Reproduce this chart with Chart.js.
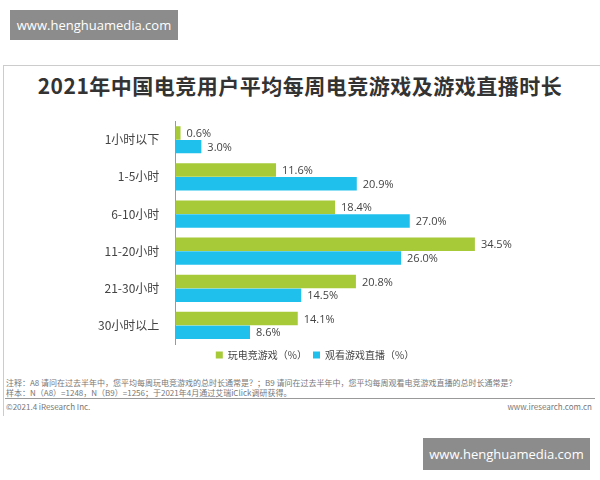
<!DOCTYPE html>
<html><head><meta charset="utf-8">
<script src="https://cdn.jsdelivr.net/npm/chart.js@4.4.0/dist/chart.umd.min.js"></script>
<style>
body{margin:0;width:600px;height:480px;background:#fff;font-family:"Noto Sans CJK SC","Noto Sans",sans-serif;position:relative;overflow:hidden}
.wm{position:absolute;background:#8c8c8c;color:#fff;font-size:13px;font-family:"Open Sans",sans-serif;display:flex;align-items:center;justify-content:center}
#card{position:absolute;left:3px;top:65px;width:597px;height:350px;border-top:1px solid #ccc;border-left:1px solid #ccc}
#title{position:absolute;left:0;top:70px;width:600px;text-align:center;font-size:21px;font-weight:bold;color:#333;letter-spacing:0.5px}
#box{position:absolute;left:90px;top:106px;width:450px;height:264px}
.note{position:absolute;left:6px;font-size:8px;color:#777;white-space:nowrap}
</style></head><body>
<div id="card"></div>
<div class="wm" style="left:10px;top:10px;width:168px;height:30px">www.henghuamedia.com</div>
<div id="title">2021年中国电竞用户平均每周电竞游戏及游戏直播时长</div>
<div id="box"><canvas id="c"></canvas></div>
<div class="note" style="top:377px">注释：A8 请问在过去半年中，您平均每周玩电竞游戏的总时长通常是？；B9 请问在过去半年中，您平均每周观看电竞游戏直播的总时长通常是？</div>
<div class="note" style="top:387px">样本：N（A8）=1248，N（B9）=1256；于2021年4月通过艾瑞iClick调研获得。</div>
<div style="position:absolute;left:5px;top:398px;width:590px;border-top:1px solid #999"></div>
<div class="note" style="top:401px">©2021.4 iResearch Inc.</div>
<div class="note" style="top:401px;left:auto;right:8px">www.iresearch.com.cn</div>
<div class="wm" style="left:423px;top:438px;width:167px;height:32px">www.henghuamedia.com</div>
<script>
const categories = ['1小时以下','1-5小时','6-10小时','11-20小时','21-30小时','30小时以上'];
const playGame = [0.6, 11.6, 18.4, 34.5, 20.8, 14.1];
const watchLive = [3.0, 20.9, 27.0, 26.0, 14.5, 8.6];
const seriesNames = ['玩电竞游戏（%）','观看游戏直播（%）'];

const labelPlugin = {
  id: 'vals',
  afterDatasetsDraw(chart) {
    const ctx = chart.ctx;
    ctx.save();
    ctx.font = '11px "Open Sans", sans-serif';
    ctx.fillStyle = '#444';
    ctx.textBaseline = 'middle';
    chart.data.datasets.forEach((ds, i) => {
      chart.getDatasetMeta(i).data.forEach((bar, j) => {
        ctx.fillText(ds.data[j].toFixed(1) + '%', bar.x + 6, bar.y + 1);
      });
    });
    ctx.restore();
  }
};

new Chart(document.getElementById('c'), {
  type: 'bar',
  data: {
    labels: categories,
    datasets: [
      { label: seriesNames[0], data: playGame, backgroundColor: '#a6ca38', categoryPercentage: 0.74, barPercentage: 0.98 },
      { label: seriesNames[1], data: watchLive, backgroundColor: '#20c0ec', categoryPercentage: 0.74, barPercentage: 0.98 }
    ]
  },
  options: {
    indexAxis: 'y',
    responsive: true,
    maintainAspectRatio: false,
    animation: false,
    scales: {
      x: { display: false, min: 0, max: 42 },
      y: {
        grid: { display: false },
        border: { color: '#999' },
        ticks: { color: '#444', font: { size: 12, family: '"Noto Sans CJK SC"' }, padding: 8 }
      }
    },
    plugins: {
      legend: {
        position: 'bottom',
        labels: { boxWidth: 7, boxHeight: 7, color: '#444', padding: 6, font: { size: 10, family: '"Noto Sans CJK SC"' } }
      },
      tooltip: { enabled: false }
    }
  },
  plugins: [labelPlugin]
});
</script>
</body></html>
